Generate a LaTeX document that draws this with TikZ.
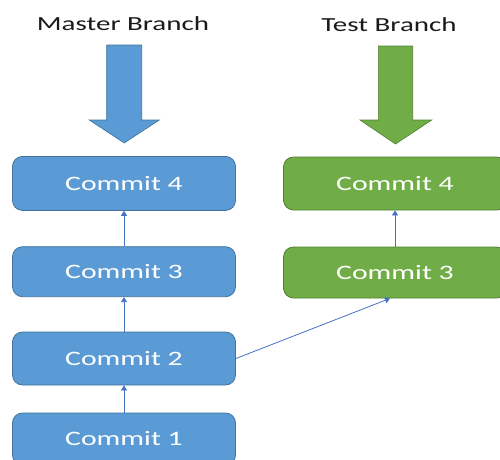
\documentclass[tikz,border=0pt]{standalone}
\usepackage{fontspec}
\usetikzlibrary{arrows.meta}
\newfontfamily\widefont[FakeStretch=1.45]{Carlito}
\definecolor{mbfill}{HTML}{5B9BD5}
\definecolor{mbline}{HTML}{41719C}
\definecolor{tbfill}{HTML}{70AD47}
\definecolor{tbline}{HTML}{507E32}
\definecolor{linkc}{HTML}{4472C4}
\definecolor{titlec}{HTML}{1A1A1A}
\tikzset{
  commitbox/.style={rounded corners=10pt, minimum width=223pt, inner sep=0pt,
    text=white, font=\widefont\fontsize{20.5}{24}\selectfont, line width=0.8pt},
  mastercommit/.style={commitbox, fill=mbfill, draw=mbline},
  testcommit/.style={commitbox, fill=tbfill, draw=tbline},
  branchtitle/.style={text=titlec, font=\widefont\fontsize{20}{24}\selectfont, anchor=base, inner sep=0pt},
  link/.style={draw=linkc, line width=0.8pt, -{Triangle[width=6pt,length=5pt]}},
  masterarrow/.style={fill=mbfill, draw=mbline, line width=0.6pt},
  testarrow/.style={fill=tbfill, draw=tbline, line width=0.6pt}
}
\begin{document}
\begin{tikzpicture}[x=1pt,y=-1pt]
\useasboundingbox (0,0) rectangle (500,459);
\clip (0,0) rectangle (500,459);

% branch titles
\node[branchtitle] (mtitle) at (123,30.7) {Master Branch};
\node[branchtitle] (ttitle) at (389,31) {Test Branch};

% branch pointer arrows
\draw[masterarrow] (106.7,45) -- (141.7,45) -- (141.7,120) -- (159.3,120)
  -- (124.2,143) -- (89.3,120) -- (106.7,120) -- cycle;
\draw[testarrow] (378.3,46) -- (412.7,46) -- (412.7,120) -- (431.7,120)
  -- (395.5,144) -- (360,120) -- (378.3,120) -- cycle;

% master branch commits
\node[mastercommit, minimum height=54pt] (m4) at (124,183.4) {Commit 4};
\node[mastercommit, minimum height=50pt] (m3) at (124,271.7) {Commit 3};
\node[mastercommit, minimum height=53pt] (m2) at (124,358.5) {Commit 2};
\node[mastercommit, minimum height=52pt] (m1) at (124,439) {Commit 1};

% test branch commits
\node[testcommit, minimum height=53pt] (t4) at (395,183.5) {Commit 4};
\node[testcommit, minimum height=51pt] (t3) at (395,272.5) {Commit 3};

% parent links
\draw[link] (m1.north) -- (m2.south);
\draw[link] (m2.north) -- (m3.south);
\draw[link] (m3.north) -- (m4.south);
\draw[link] (t3.north) -- (t4.south);
\draw[link] (m2.east) -- ([xshift=-5pt]t3.south);
\end{tikzpicture}
\end{document}
